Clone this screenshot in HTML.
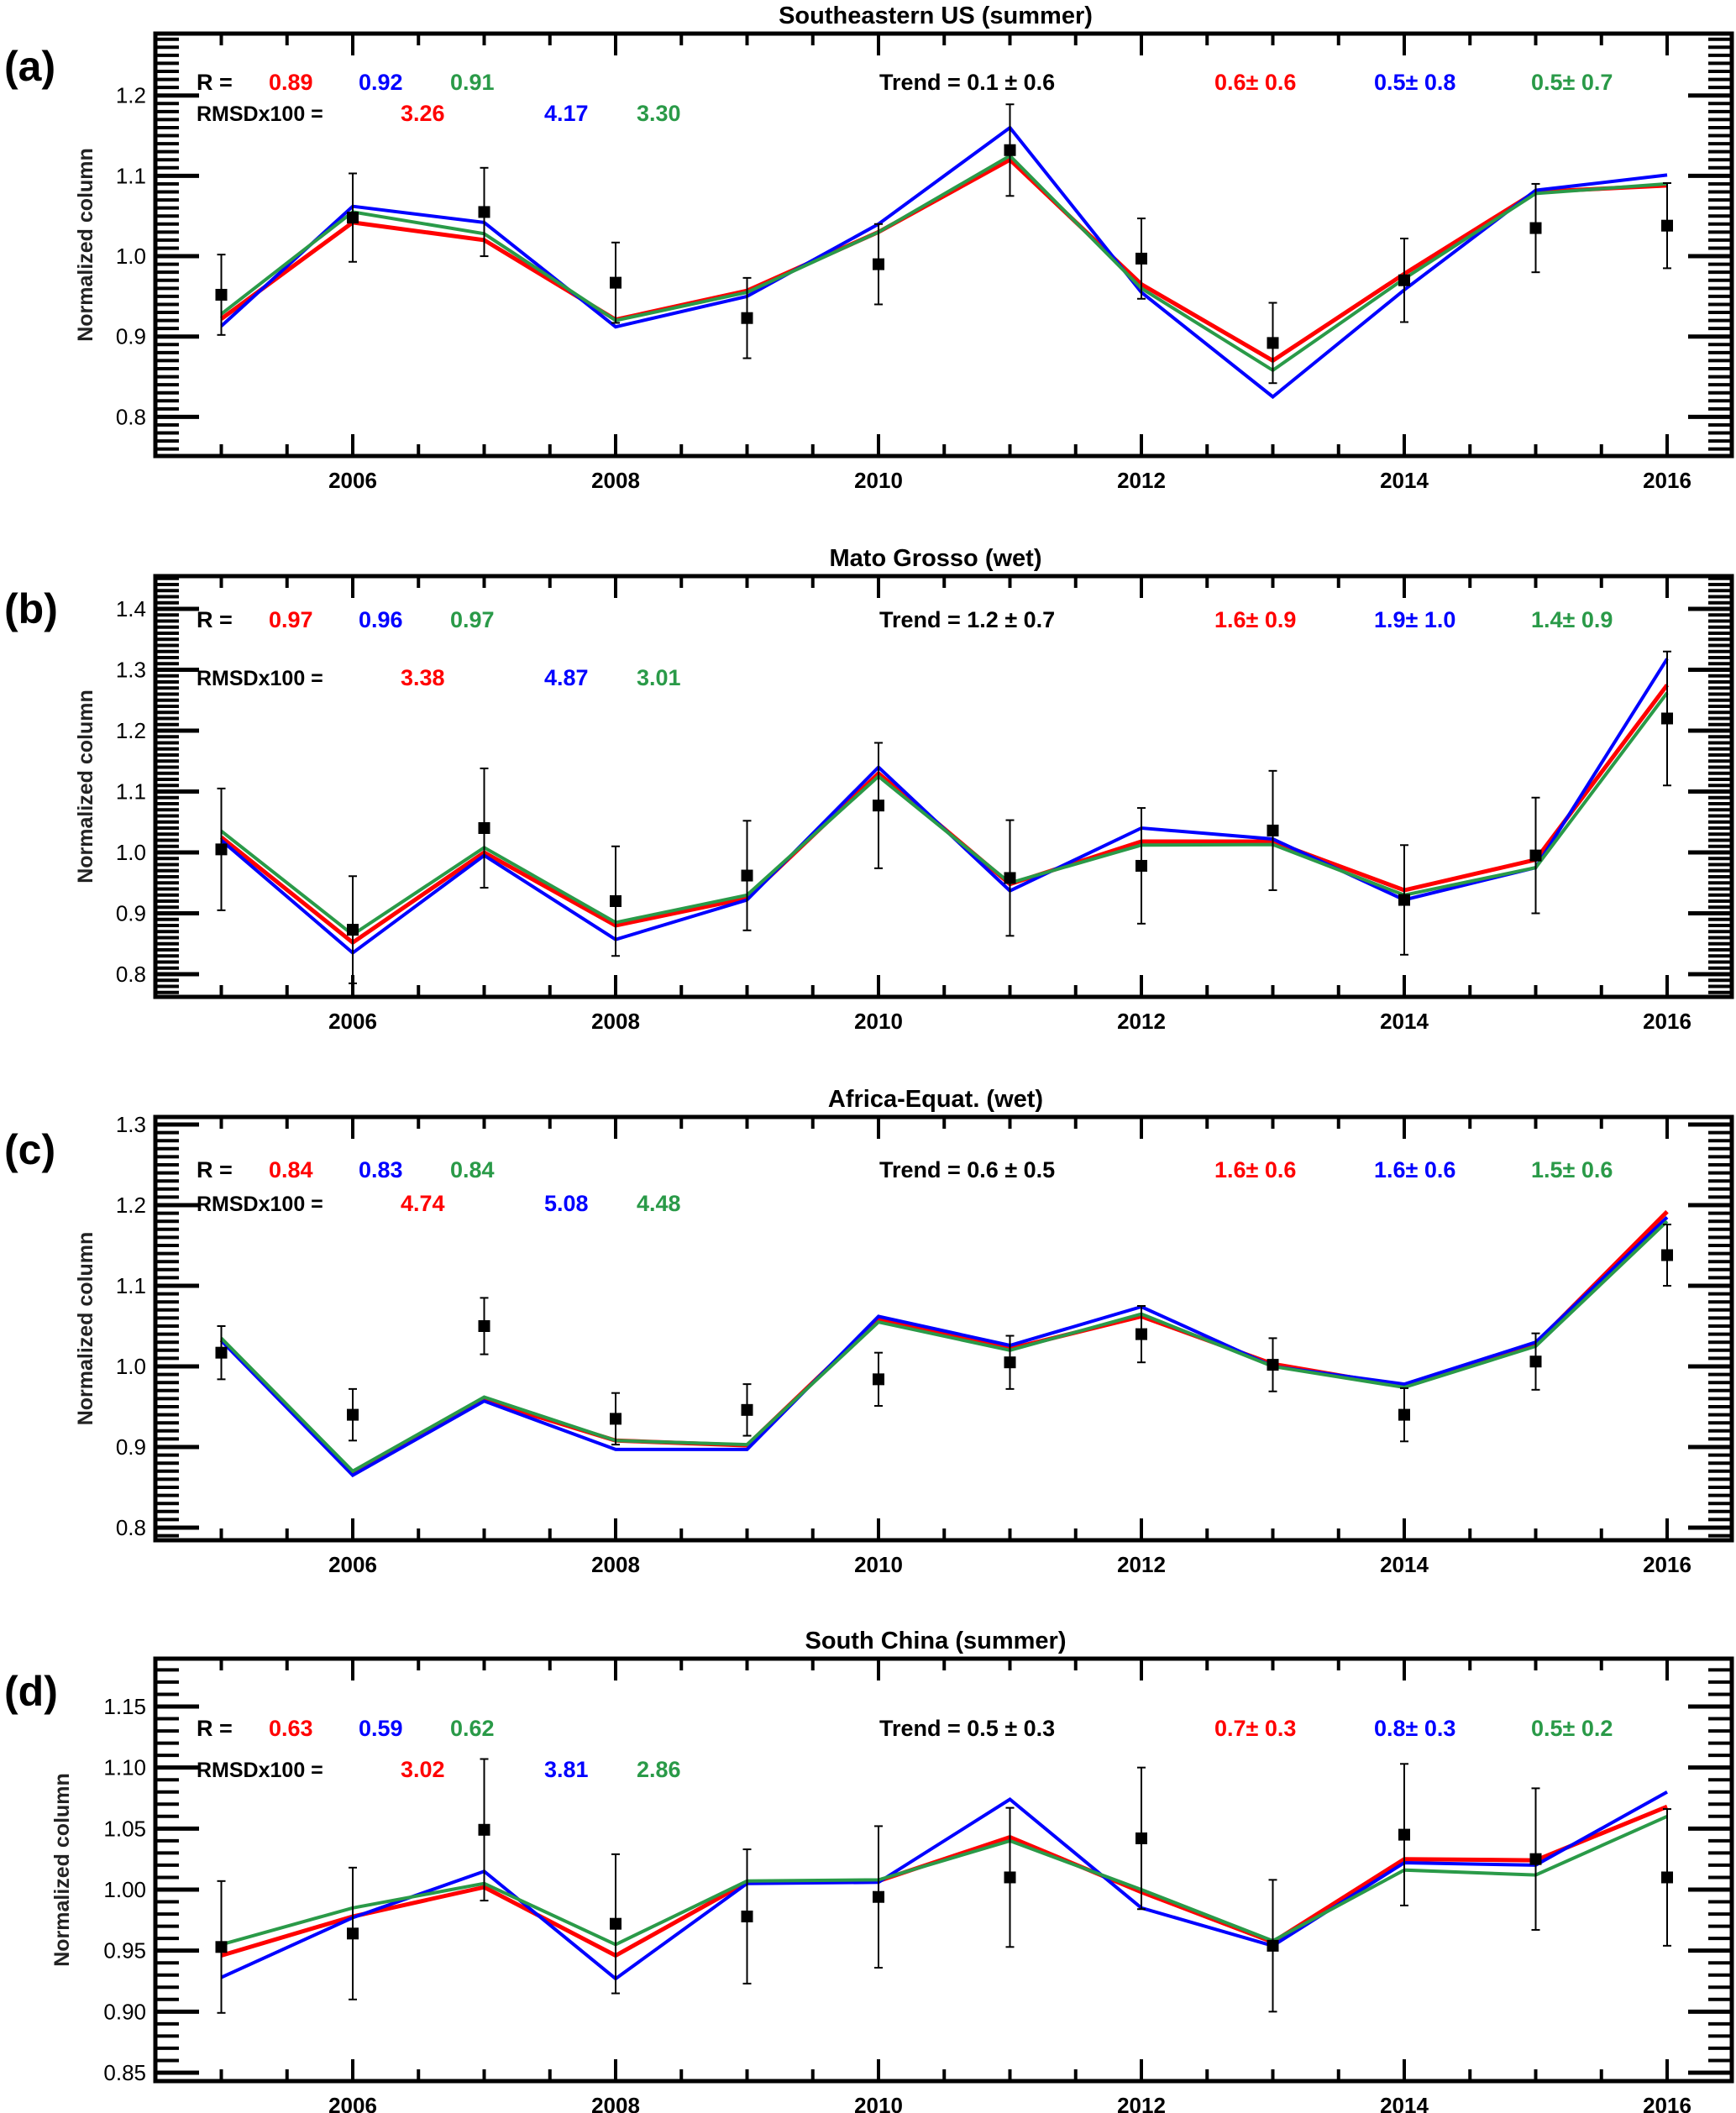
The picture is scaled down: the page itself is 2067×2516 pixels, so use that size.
<!DOCTYPE html>
<html><head><meta charset="utf-8"><style>
html,body{margin:0;padding:0;background:#fff;}
svg{display:block;font-family:"Liberation Sans",Arial,sans-serif;}
</style></head><body>
<svg id="chart" width="2067" height="2516" viewBox="0 0 2067 2516" xmlns="http://www.w3.org/2000/svg"></svg>
<script>
const years = [2005,2006,2007,2008,2009,2010,2011,2012,2013,2014,2015,2016];
const xTickLabels = ["2006","2008","2010","2012","2014","2016"];

const titles = ["Southeastern US (summer)","Mato Grosso (wet)","Africa-Equat. (wet)","South China (summer)"];
const panelLetters = ["(a)","(b)","(c)","(d)"];
const rValues = [["0.89","0.92","0.91"],["0.97","0.96","0.97"],["0.84","0.83","0.84"],["0.63","0.59","0.62"]];
const rmsdValues = [["3.26","4.17","3.30"],["3.38","4.87","3.01"],["4.74","5.08","4.48"],["3.02","3.81","2.86"]];
const obsTrend = ["0.1 \u00b1 0.6","1.2 \u00b1 0.7","0.6 \u00b1 0.5","0.5 \u00b1 0.3"];
const modelTrends = [["0.6\u00b1 0.6","0.5\u00b1 0.8","0.5\u00b1 0.7"],["1.6\u00b1 0.9","1.9\u00b1 1.0","1.4\u00b1 0.9"],["1.6\u00b1 0.6","1.6\u00b1 0.6","1.5\u00b1 0.6"],["0.7\u00b1 0.3","0.8\u00b1 0.3","0.5\u00b1 0.2"]];

const yTickLabelsA = ["0.8","0.9","1.0","1.1","1.2"];
const yTickLabelsB = ["0.8","0.9","1.0","1.1","1.2","1.3","1.4"];
const yTickLabelsC = ["0.8","0.9","1.0","1.1","1.2","1.3"];
const yTickLabelsD = ["0.85","0.90","0.95","1.00","1.05","1.10","1.15"];

const obsA = [0.952,1.048,1.055,0.967,0.923,0.990,1.132,0.997,0.892,0.970,1.035,1.038];
const errA = [0.050,0.055,0.055,0.050,0.050,0.050,0.057,0.050,0.050,0.052,0.055,0.053];
const redA = [0.922,1.042,1.020,0.921,0.957,1.030,1.120,0.965,0.870,0.978,1.080,1.088];
const blueA = [0.913,1.062,1.042,0.912,0.950,1.040,1.160,0.955,0.825,0.958,1.082,1.101];
const greenA = [0.928,1.055,1.028,0.920,0.955,1.030,1.125,0.960,0.858,0.972,1.078,1.090];

const obsB = [1.005,0.873,1.040,0.920,0.962,1.077,0.958,0.978,1.036,0.922,0.995,1.220];
const errB = [0.100,0.088,0.098,0.090,0.090,0.103,0.095,0.095,0.098,0.090,0.095,0.110];
const redB = [1.025,0.852,1.000,0.880,0.925,1.130,0.948,1.018,1.018,0.938,0.988,1.275];
const blueB = [1.020,0.835,0.995,0.857,0.922,1.140,0.937,1.040,1.022,0.922,0.975,1.318];
const greenB = [1.035,0.865,1.008,0.885,0.930,1.125,0.950,1.012,1.013,0.930,0.975,1.262];

const obsC = [1.017,0.940,1.050,0.935,0.946,0.984,1.005,1.040,1.002,0.940,1.006,1.138];
const errC = [0.033,0.032,0.035,0.032,0.032,0.033,0.033,0.035,0.033,0.033,0.035,0.038];
const redC = [1.033,0.868,0.958,0.908,0.902,1.058,1.022,1.062,1.003,0.975,1.028,1.192];
const blueC = [1.032,0.865,0.957,0.897,0.897,1.062,1.026,1.074,1.000,0.978,1.030,1.185];
const greenC = [1.035,0.870,0.962,0.908,0.903,1.055,1.020,1.065,1.000,0.974,1.025,1.180];

const obsD = [0.953,0.964,1.049,0.972,0.978,0.994,1.010,1.042,0.954,1.045,1.025,1.010];
const errD = [0.054,0.054,0.058,0.057,0.055,0.058,0.057,0.058,0.054,0.058,0.058,0.056];
const redD = [0.946,0.978,1.002,0.946,1.006,1.007,1.043,0.998,0.957,1.025,1.024,1.068];
const blueD = [0.928,0.977,1.015,0.927,1.005,1.006,1.074,0.985,0.954,1.022,1.020,1.080];
const greenD = [0.955,0.985,1.005,0.955,1.007,1.008,1.040,1.000,0.958,1.016,1.012,1.060];

const NS = "http://www.w3.org/2000/svg";
const svg = document.getElementById("chart");
function mk(tag, attrs, parent, text){
  const e = document.createElementNS(NS, tag);
  for (const k in attrs) e.setAttribute(k, attrs[k]);
  if (text !== undefined) e.textContent = text;
  (parent||svg).appendChild(e);
  return e;
}
const COLORS = ["#ff0000","#0000ff","#2a9a48"];
const X0 = 185, X1 = 2062;
function xs(yr){ return 263.5 + (yr-2005)*156.5; }

const panels = [
  {top:40, bottom:543, v0:0.8, p0:496.4, v1:1.2, p1:113.7, ylab:yTickLabelsA, yt0:0.8, ytStep:0.1, obs:obsA, err:errA, ser:[redA,blueA,greenA], rY:98, rmY:135},
  {top:686, bottom:1187, v0:0.8, p0:1160, v1:1.4, p1:725, ylab:yTickLabelsB, yt0:0.8, ytStep:0.1, obs:obsB, err:errB, ser:[redB,blueB,greenB], rY:738, rmY:807},
  {top:1330, bottom:1834, v0:0.8, p0:1819, v1:1.3, p1:1339, ylab:yTickLabelsC, yt0:0.8, ytStep:0.1, obs:obsC, err:errC, ser:[redC,blueC,greenC], rY:1393, rmY:1433},
  {top:1975, bottom:2478, v0:0.85, p0:2468, v1:1.15, p1:2032, ylab:yTickLabelsD, yt0:0.85, ytStep:0.05, obs:obsD, err:errD, ser:[redD,blueD,greenD], rY:2058, rmY:2107}
];

panels.forEach((P, i) => {
  const g = mk("g", {});
  
  
  const ys = v => P.p0 + (v - P.v0) * (P.p1 - P.p0) / (P.v1 - P.v0);
  const vmin = P.v0 + (P.bottom - P.p0) * (P.v1 - P.v0) / (P.p1 - P.p0);
  const vmax = P.v0 + (P.top - P.p0) * (P.v1 - P.v0) / (P.p1 - P.p0);

  // title
  const t = mk("text", {x:1114, y:P.top-12, "text-anchor":"middle", "font-size":29, "font-weight":"bold"}, g, titles[i]);
  
  
  const pl = mk("text", {x:5, y:P.top+56, "font-size":50, "font-weight":"bold"}, g, panelLetters[i]);
  
  

  // y ticks minor/major
  const tg = mk("g", {stroke:"#000"}, g);
  
  
  const start = Math.ceil(vmin*100 - 1e-6), end = Math.floor(vmax*100 + 1e-6);
  for (let k = start; k <= end; k++){
    const v = k/100, y = ys(v);
    const major = Math.abs(((v - P.yt0)/P.ytStep) - Math.round((v - P.yt0)/P.ytStep)) < 1e-6;
    const len = major ? 52 : 28;
    mk("line", {x1:X0, x2:X0+len, y1:y, y2:y, "stroke-width": major?5:4}, tg);
    mk("line", {x1:X1, x2:X1-len, y1:y, y2:y, "stroke-width": major?5:4}, tg);
  }
  P.ylab.forEach((lab, j) => {
    const v = P.yt0 + j*P.ytStep;
    const tl = mk("text", {x:174, y:ys(v)+9, "text-anchor":"end", "font-size":26}, g, lab);
    
    
  });
  // x ticks
  const xg = mk("g", {stroke:"#000", "stroke-width":4}, g);
  
  
  for (let yr = 2005; yr <= 2016.01; yr += 0.5){
    const major = Math.abs(yr % 2) < 1e-6;
    const len = major ? 26 : 14;
    const x = xs(yr);
    mk("line", {x1:x, x2:x, y1:P.bottom, y2:P.bottom-len}, xg);
    mk("line", {x1:x, x2:x, y1:P.top, y2:P.top+len}, xg);
  }
  xTickLabels.forEach(lab => {
    const xl = mk("text", {x:xs(+lab), y:P.bottom+38, "text-anchor":"middle", "font-size":26, "font-weight":"bold"}, g, lab);
    
    
  });
  // frame
  const fr = mk("rect", {x:X0, y:P.top, width:X1-X0, height:P.bottom-P.top, fill:"none", stroke:"#000", "stroke-width":5}, g);
  
  
  // y axis title
  const cy = (P.top+P.bottom)/2;
  const yt = mk("text", {x:0, y:0, transform:`translate(${i==3?82:110},${cy}) rotate(-90)`, "text-anchor":"middle", "font-size":25, "font-weight":"bold", fill:"#222"}, g, "Normalized column");
  
  

  // series lines
  const names = ["red","blue","green"];
  P.ser.forEach((s, k) => {
    const pts = s.map((v, j) => xs(years[j]).toFixed(1) + "," + ys(v).toFixed(1)).join(" ");
    const ln = mk("polyline", {points:pts, fill:"none", stroke:COLORS[k], "stroke-width": k==0?5:4, "stroke-linejoin":"miter"}, g);
    
    
  });
  // obs error bars and markers
  P.obs.forEach((v, j) => {
    const x = xs(years[j]);
    const eb = mk("g", {stroke:"#000", "stroke-width":2}, g);
    
    
    const yh = ys(v + P.err[j]), yl = ys(v - P.err[j]);
    mk("line", {x1:x, x2:x, y1:yh, y2:yl}, eb);
    mk("line", {x1:x-5, x2:x+5, y1:yh, y2:yh}, eb);
    mk("line", {x1:x-5, x2:x+5, y1:yl, y2:yl}, eb);
    const m = mk("rect", {x:x-7, y:ys(v)-7, width:14, height:14, fill:"#000"}, g);
    
    
  });

  // annotations
  const ag = mk("g", {"font-size":27, "font-weight":"bold"}, g);
  
  
  mk("text", {x:234, y:P.rY+9}, ag, "R =");
  [320,427,536].forEach((x,k) => mk("text", {x:x, y:P.rY+9, fill:COLORS[k]}, ag, rValues[i][k]));
  mk("text", {x:234, y:P.rmY+9, "font-size":25}, ag, "RMSDx100 =");
  [477,648,758].forEach((x,k) => mk("text", {x:x, y:P.rmY+9, fill:COLORS[k]}, ag, rmsdValues[i][k]));
  mk("text", {x:1047, y:P.rY+9}, ag, "Trend = " + obsTrend[i]);
  [1446,1636,1823].forEach((x,k) => mk("text", {x:x, y:P.rY+9, fill:COLORS[k]}, ag, modelTrends[i][k]));
});
</script>
</body></html>
